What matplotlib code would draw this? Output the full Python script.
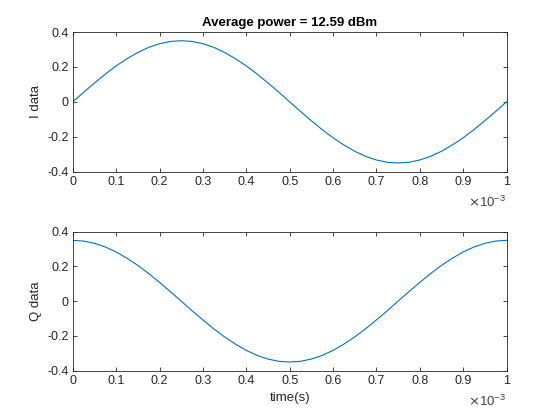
import matplotlib

matplotlib.use("Agg")
import matplotlib.pyplot as plt
from matplotlib.ticker import FuncFormatter

# --- data (time in s, 41 samples over one period) ---
t_s = [k * 0.025e-3 for k in range(41)]
i_data = [0.000, 0.055, 0.108, 0.159, 0.206, 0.247, 0.283, 0.312, 0.333, 0.346,
          0.350, 0.346, 0.333, 0.312, 0.283, 0.247, 0.206, 0.159, 0.108, 0.055,
          0.000, -0.055, -0.108, -0.159, -0.206, -0.247, -0.283, -0.312, -0.333, -0.346,
          -0.350, -0.346, -0.333, -0.312, -0.283, -0.247, -0.206, -0.159, -0.108, -0.055,
          0.000]
q_data = [0.350, 0.346, 0.333, 0.312, 0.283, 0.247, 0.206, 0.159, 0.108, 0.055,
          0.000, -0.055, -0.108, -0.159, -0.206, -0.247, -0.283, -0.312, -0.333, -0.346,
          -0.350, -0.346, -0.333, -0.312, -0.283, -0.247, -0.206, -0.159, -0.108, -0.055,
          0.000, 0.055, 0.108, 0.159, 0.206, 0.247, 0.283, 0.312, 0.333, 0.346,
          0.350]
x_ticks = [0, 0.1, 0.2, 0.3, 0.4, 0.5, 0.6, 0.7, 0.8, 0.9, 1]   # ×10^-3
y_ticks = [-0.4, -0.2, 0, 0.2, 0.4]
title = "Average power = 12.59 dBm"

LINE = "#0072BD"
AX = "#262626"

plt.rcParams.update({
    "font.family": ["Liberation Sans", "DejaVu Sans"],
    "font.size": 9,
    "axes.edgecolor": AX,
    "axes.linewidth": 0.6,
    "xtick.color": AX,
    "ytick.color": AX,
    "xtick.direction": "in",
    "ytick.direction": "in",
    "xtick.major.size": 3.0,
    "ytick.major.size": 3.0,
    "xtick.major.width": 0.6,
    "ytick.major.width": 0.6,
    "xtick.top": True,
    "ytick.right": True,
    "axes.labelcolor": AX,
})

fig = plt.figure(figsize=(5.6, 4.2), dpi=100)
ax1 = fig.add_axes([0.130, 0.5912, 0.7745, 0.3326])
ax2 = fig.add_axes([0.130, 0.1174, 0.7745, 0.3310])

t_ms = [v * 1e3 for v in t_s]
fmt = FuncFormatter(lambda v, p: f"{v:g}")

for ax, data, lab in ((ax1, i_data, "I data"), (ax2, q_data, "Q data")):
    ax.plot(t_ms, data, color=LINE, lw=0.8)
    ax.set_xlim(0, 1)
    ax.set_ylim(-0.4, 0.4)
    ax.set_xticks(x_ticks)
    ax.set_yticks(y_ticks)
    ax.xaxis.set_major_formatter(fmt)
    ax.yaxis.set_major_formatter(fmt)
    ax.tick_params(labelsize=9, pad=3)
    ax.set_ylabel(lab, fontsize=9.5, labelpad=4)
    ax.text(1.0, -0.22, r"$\times\mathregular{10^{-3}}$", transform=ax.transAxes,
            ha="right", va="center", fontsize=9.5, color="#404040")

ax1.set_title(title, fontsize=9.5, fontweight="bold", pad=4)
ax2.set_xlabel("time(s)", fontsize=9.5, labelpad=4)

fig.savefig("out.png", dpi=100)
